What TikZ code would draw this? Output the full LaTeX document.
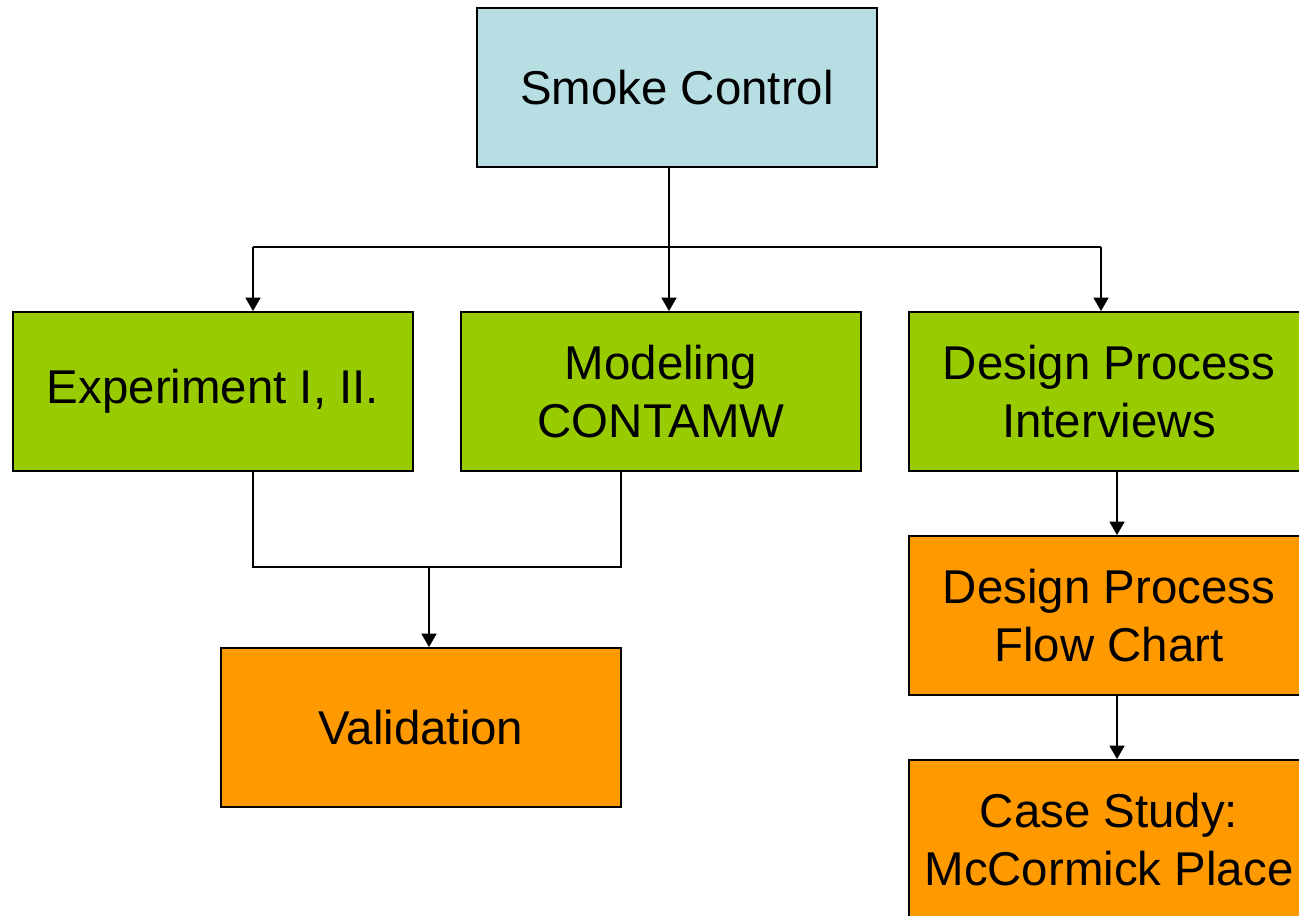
\documentclass[tikz,border=0pt]{standalone}
\usepackage{fontspec}
\setmainfont{Liberation Sans}
\usetikzlibrary{arrows.meta}
\definecolor{boxblue}{HTML}{B7DFE3}
\definecolor{boxgreen}{HTML}{99CC00}
\definecolor{boxorange}{HTML}{FF9900}
\begin{document}
\begin{tikzpicture}[x=0.02cm, y=-0.02cm,
    box/.style={draw=black, line width=1.1pt, minimum width=8cm, minimum height=3.18cm,
      align=center, inner sep=0pt, font=\fontsize{27}{32.5}\selectfont},
    bluebox/.style={box, fill=boxblue},
    greenbox/.style={box, fill=boxgreen},
    orangebox/.style={box, fill=boxorange},
    link/.style={line width=1.1pt},
    arrow/.style={link, -{Triangle[width=0.3cm, length=0.27cm]}}]
      \useasboundingbox (0,0) rectangle (1299,916);
      \draw
        (677,87.5) node[bluebox] (smoke){Smoke Control}
        (213,391.5) node[greenbox] (exper){Experiment I, II.}
        (661,391.5) node[greenbox] (model){Modeling\\CONTAMW}
        (1109,391.5) node[greenbox] (interv){Design Process\\Interviews}
        (1109,615.5) node[orangebox] (flow){Design Process\\Flow Chart}
        (1109,839.5) node[orangebox] (case){Case Study:\\McCormick Place}
        (421,727.5) node[orangebox] (valid){Validation};
      \coordinate (fork) at (669,247);
      \coordinate (forkL) at (253,247);
      \coordinate (forkR) at (1101,247);
      \coordinate (joinL) at (253,567);
      \coordinate (joinR) at (621,567);
      \coordinate (join) at (429,567);
      \begin{scope}[link]
        \draw (smoke.south -| fork) -- (fork);
        \draw (forkL) -- (forkR);
        \draw (exper.south -| joinL) -- (joinL) -- (joinR) -- (model.south -| joinR);
      \end{scope}
      \begin{scope}[arrow]
        \draw (forkL) to (exper.north -| forkL);
        \draw (fork) to (model.north -| fork);
        \draw (forkR) to (interv.north -| forkR);
        \draw (join) to (valid.north -| join);
        \draw (interv.south -| 1117,0) to (flow.north -| 1117,0);
        \draw (flow.south -| 1117,0) to (case.north -| 1117,0);
      \end{scope}
    \end{tikzpicture}
\end{document}
